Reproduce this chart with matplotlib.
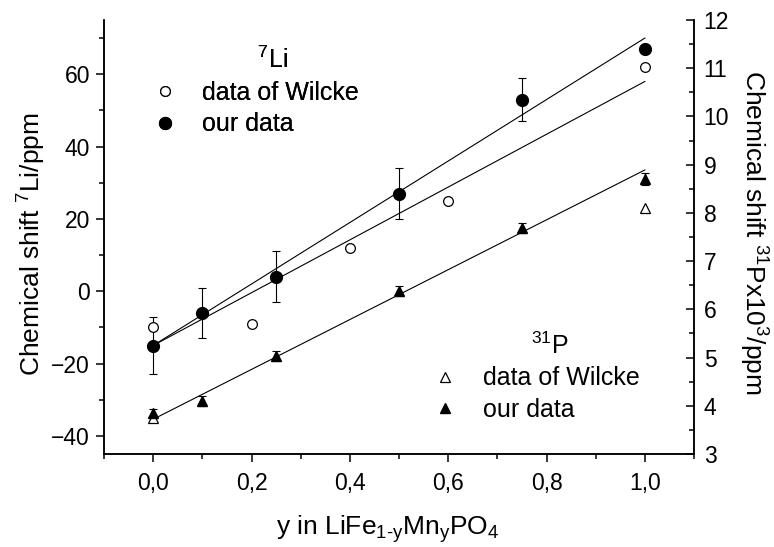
import matplotlib
matplotlib.use("Agg")
import matplotlib.pyplot as plt
from matplotlib.ticker import MultipleLocator, FuncFormatter
import numpy as np

plt.rcParams['font.family'] = ['Liberation Sans', 'DejaVu Sans']
plt.rcParams['mathtext.fontset'] = 'custom'
plt.rcParams['mathtext.rm'] = 'Liberation Sans'
plt.rcParams['mathtext.it'] = 'Liberation Sans'
plt.rcParams['mathtext.bf'] = 'Liberation Sans:bold'

# 7Li chemical shift (left axis, ppm)
li_x_wilcke = [0.0, 0.2, 0.4, 0.6, 1.0]
li_wilcke = [-10, -9, 12, 25, 62]
li_x_ours = [0.0, 0.1, 0.25, 0.5, 0.75, 1.0]
li_ours = [-15, -6, 4, 27, 53, 67]
li_ours_err = [8, 7, 7, 7, 6, 0]

# 31P chemical shift (right axis, x10^3 ppm)
p_x_wilcke = [0.0, 1.0]
p_wilcke = [3.74, 8.11]
p_x_ours = [0.0, 0.1, 0.25, 0.5, 0.75, 1.0]
p_ours = [3.84, 4.10, 5.03, 6.38, 7.69, 8.70]
p_ours_err = [0.1, 0.1, 0.1, 0.1, 0.1, 0.13]

# linear trend lines: (intercept, slope) over y = 0 ... 1
fit_x = np.array([0.0, 1.0])
li_fit_ours = (-15.0, 85.0)
li_fit_wilcke = (-15.0, 73.0)
p_fit_ours = (3.72, 5.17)

x_ticks = [0.0, 0.2, 0.4, 0.6, 0.8, 1.0]

TICK_FS = 16.5
LEG_FS = 18
LAB_FS = 19

fig = plt.figure(figsize=(7.74, 5.47), dpi=100)
ax = fig.add_axes([104 / 774, 1 - 454 / 547, 590 / 774, 434 / 547])
ax2 = ax.twinx()

line_kw = dict(color='black', lw=0.8, zorder=2)
ax.plot(fit_x, li_fit_ours[0] + li_fit_ours[1] * fit_x, **line_kw)
ax.plot(fit_x, li_fit_wilcke[0] + li_fit_wilcke[1] * fit_x, **line_kw)
ax2.plot(fit_x, p_fit_ours[0] + p_fit_ours[1] * fit_x, **line_kw)

err_kw = dict(fmt='none', ecolor='black', elinewidth=0.8, capsize=3, capthick=0.8, zorder=3)
ax.errorbar(li_x_ours, li_ours, yerr=li_ours_err, **err_kw)
ax2.errorbar(p_x_ours, p_ours, yerr=p_ours_err, **err_kw)

h_li_w, = ax.plot(li_x_wilcke, li_wilcke, 'o', ms=7, mfc='white', mec='black', mew=0.9,
                  ls='none', zorder=4)
h_li_o, = ax.plot(li_x_ours, li_ours, 'o', ms=8.5, mfc='black', mec='black',
                  ls='none', zorder=5)
h_p_w, = ax2.plot(p_x_wilcke, p_wilcke, '^', ms=7, mfc='white', mec='black', mew=0.9,
                  ls='none', zorder=4)
h_p_o, = ax2.plot(p_x_ours, p_ours, '^', ms=7.5, mfc='black', mec='black',
                  ls='none', zorder=5)

ax.set_xlim(-0.1, 1.1)
ax.set_ylim(-45, 75)
ax2.set_ylim(3, 12)

ax.set_xticks(x_ticks)
ax.xaxis.set_minor_locator(MultipleLocator(0.1))
ax.xaxis.set_major_formatter(FuncFormatter(lambda v, p: f"{v:.1f}".replace('.', ',')))
ax.yaxis.set_major_locator(MultipleLocator(20))
ax.yaxis.set_minor_locator(MultipleLocator(10))
ax2.yaxis.set_major_locator(MultipleLocator(1))
ax2.yaxis.set_minor_locator(MultipleLocator(0.5))

for a in (ax, ax2):
    a.spines['top'].set_visible(False)
    for s in a.spines.values():
        s.set_linewidth(1.1)

ax.tick_params(axis='both', which='major', direction='out', length=6, width=1.1,
               labelsize=TICK_FS, pad=4)
ax.tick_params(axis='both', which='minor', direction='out', length=3.5, width=1.1)
ax.tick_params(axis='x', which='major', pad=7)
ax2.tick_params(axis='y', which='major', direction='in', length=6, width=1.1,
                labelsize=TICK_FS, pad=7)
ax2.tick_params(axis='y', which='minor', direction='in', length=3.5, width=1.1)

ax.set_xlabel(r'y in LiFe$_{\mathregular{1\text{-}y}}$Mn$_{\mathregular{y}}$PO$_{\mathregular{4}}$',
              fontsize=LAB_FS, va='baseline')
ax.xaxis.set_label_coords(0.481, -0.187)
ax.set_ylabel(r'Chemical shift $^{\mathregular{7}}$Li/ppm', fontsize=LAB_FS, va='center')
ax.yaxis.set_label_coords(-0.122, 0.484)
ax2.set_ylabel(r'Chemical shift $^{\mathregular{31}}$Px10$^{\mathregular{3}}$/ppm',
               fontsize=LAB_FS, rotation=270, va='center')
ax2.yaxis.set_label_coords(1.10, 0.51)

leg_kw = dict(frameon=False, fontsize=LEG_FS, title_fontsize=18, handlelength=1.0,
              handletextpad=1.0, borderpad=0, borderaxespad=0, labelspacing=0.3,
              loc='upper left')
leg1 = ax.legend([h_li_w, h_li_o], ['data of Wilcke', 'our data'],
                 title=r'     $^{\mathregular{7}}$Li', bbox_to_anchor=(0.082, 0.938), **leg_kw)
ax.add_artist(leg1)
leg2 = ax2.legend([h_p_w, h_p_o], ['data of Wilcke', 'our data'],
                  title=r'    $^{\mathregular{31}}$P', bbox_to_anchor=(0.557, 0.280), **leg_kw)

fig.savefig('out.png', dpi=100)
